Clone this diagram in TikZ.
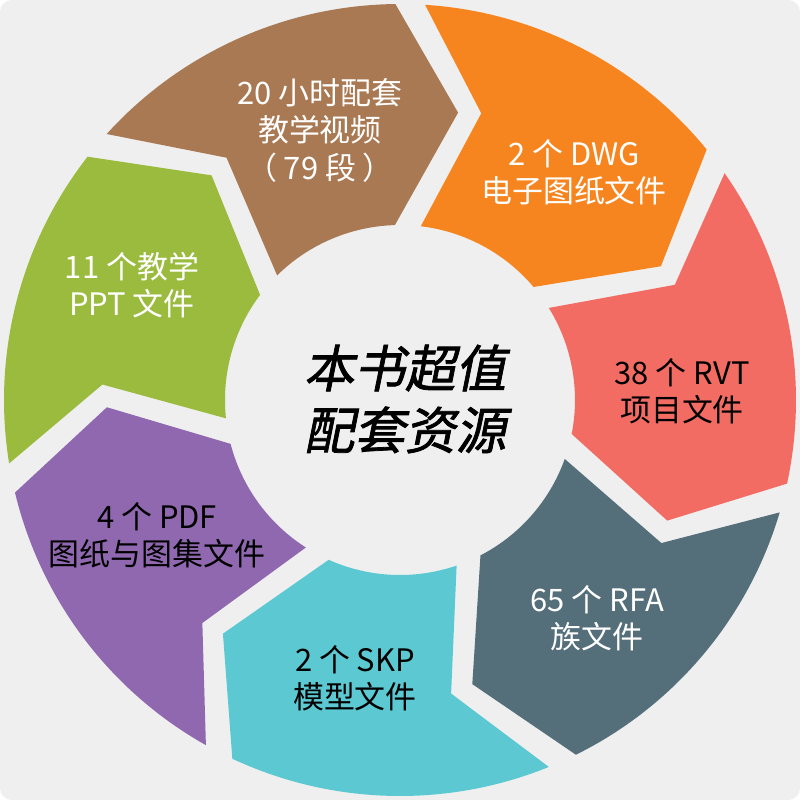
\documentclass[tikz,border=0pt]{standalone}
\usepackage{fontspec}
\setmainfont{Noto Sans CJK SC}
\newfontfamily\titlefont[FakeSlant=0.2,FakeBold=1.5]{Noto Sans CJK SC}
\usetikzlibrary{positioning}

\definecolor{bgGray}{HTML}{EFEFEF}
\definecolor{segBrown}{HTML}{A97953}
\definecolor{segOrange}{HTML}{F7851F}
\definecolor{segRed}{HTML}{F26C63}
\definecolor{segSlate}{HTML}{546E7A}
\definecolor{segCyan}{HTML}{5BC8D2}
\definecolor{segPurple}{HTML}{9068B0}
\definecolor{segGreen}{HTML}{9BBB3F}

\tikzset{
  seglabel/.style={align=center, font=\fontsize{22}{26.5}\selectfont},
  centerlabel/.style={align=center, font=\titlefont\fontsize{36}{44}\selectfont}
}

\begin{document}
\begin{tikzpicture}
    % Background
    \fill[white] (-10,-10) rectangle (10,10);
    \fill[bgGray, rounded corners=0.3cm] (-10,-10) rectangle (10,10);
    \useasboundingbox (-10,-10) rectangle (10,10);

    % Ring of chevron segments (clockwise)
    \foreach \i/\col in {0/segBrown,1/segOrange,2/segRed,3/segSlate,4/segCyan,5/segPurple,6/segGreen}{
        \pgfmathsetmacro\a{139.6-51.43*\i}
        \pgfmathsetmacro\b{\a-51.43}
        \fill[\col] ({\a-1.8}:9.9) arc[start angle=\a-1.8, end angle=\b+2.5, radius=9.9]
            -- ({\b-9.6}:7.33) -- ({\b+3.5}:4.375)
            arc[start angle=\b+3.5, end angle=\a-5, radius=4.375]
            -- ({\a-14}:7.45) -- cycle;
    }

    % Segment labels
    \node[seglabel, white] (video) at (-2.0,6.74) {20 小时配套\\教学视频\\（ 79 段 ）};
    \node[seglabel, white] (dwg) at (4.35,5.69) {2 个 DWG\\电子图纸文件};
    \node[seglabel, black] (rvt) at (7.05,0.21) {38 个 RVT\\项目文件};
    \node[seglabel, white] (rfa) at (4.93,-5.45) {65 个 RFA\\族文件};
    \node[seglabel, black] (skp) at (-1.125,-6.96) {2 个 SKP\\模型文件};
    \node[seglabel, black] (pdf) at (-6.075,-3.375) {4 个 PDF\\图纸与图集文件};
    \node[seglabel, white] (ppt) at (-6.7,2.875) {11 个教学\\PPT 文件};

    % Centre title
    \node[centerlabel] (title) at (0.125,0.025) {本书超值\\配套资源};
\end{tikzpicture}
\end{document}
